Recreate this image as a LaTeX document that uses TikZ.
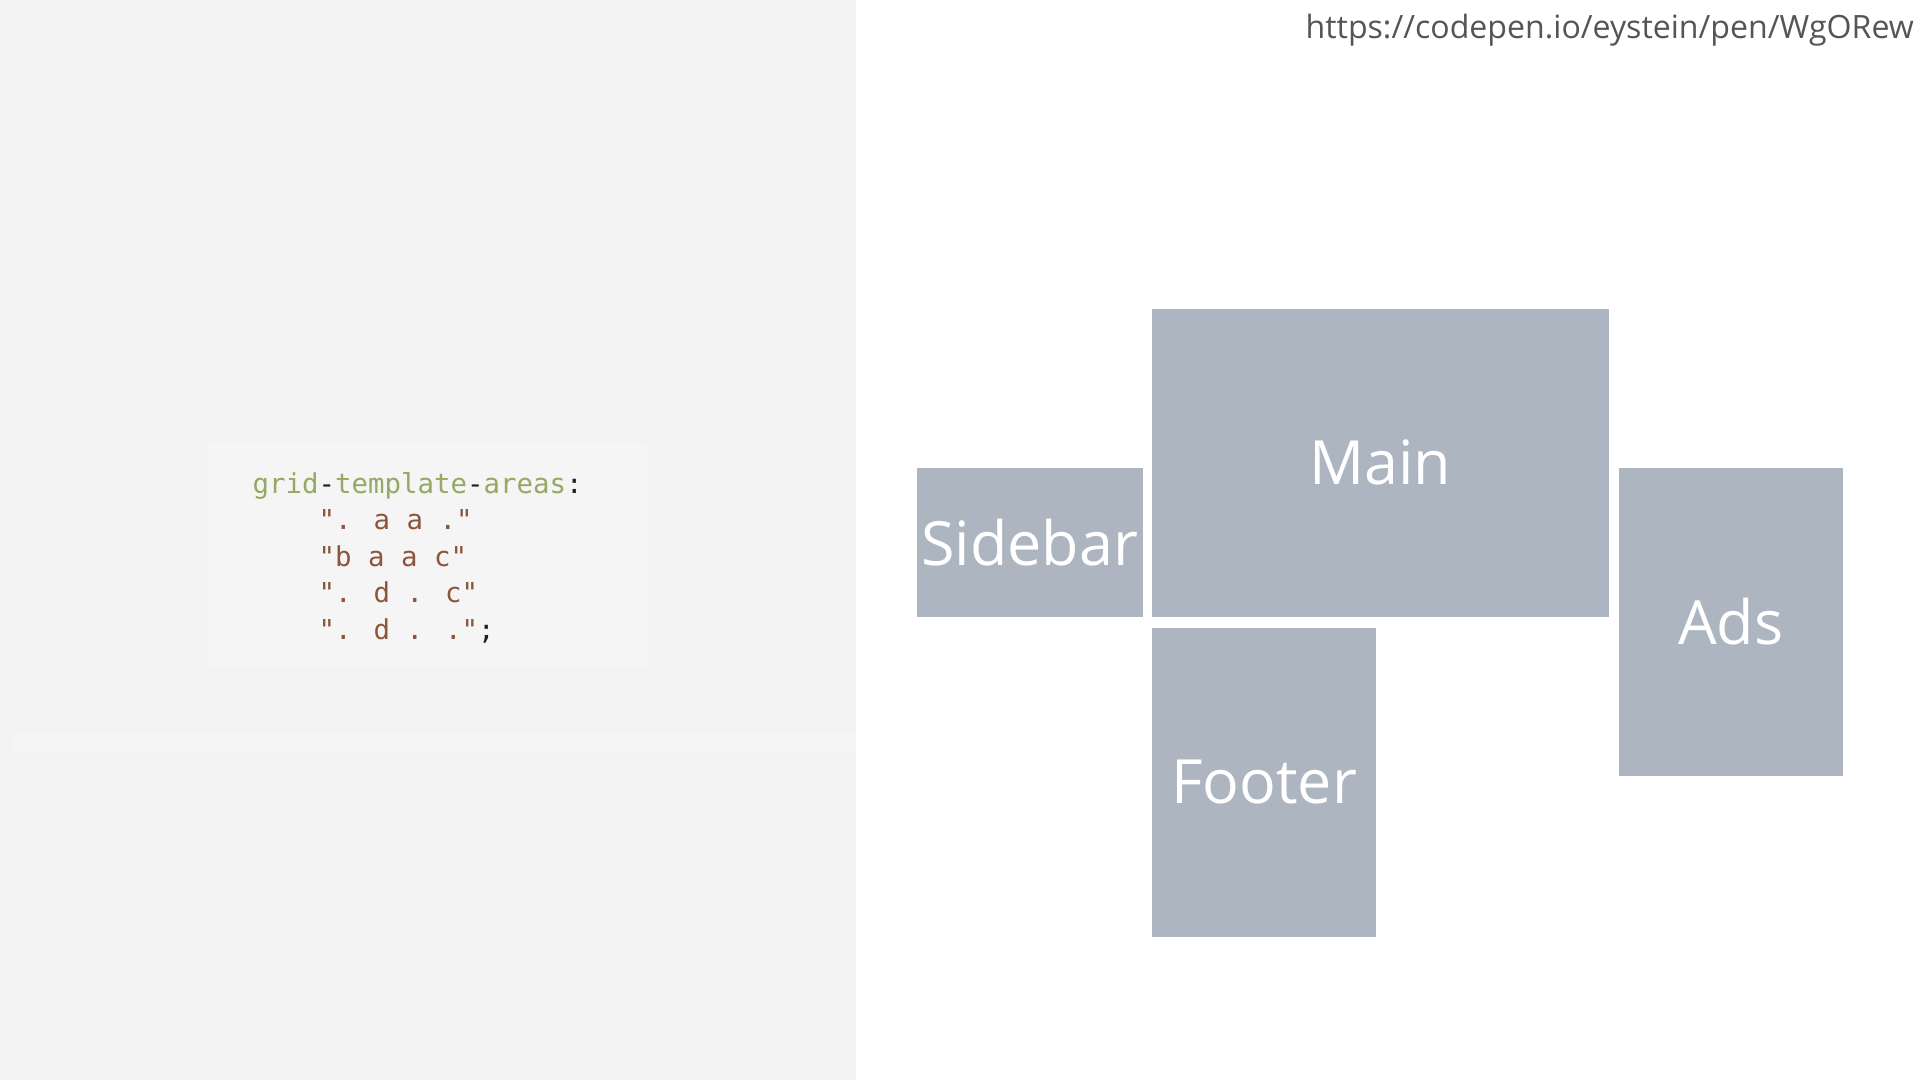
\documentclass[tikz,border=0pt]{standalone}
\usepackage{fontspec}
\setmainfont{Open Sans}
\newfontfamily\codefont{DejaVu Sans Mono}
\definecolor{panel}{HTML}{F3F3F3}
\definecolor{panellight}{HTML}{F5F5F5}
\definecolor{boxfill}{HTML}{ADB6C0}
\definecolor{codegreen}{HTML}{96A862}
\definecolor{codebrown}{HTML}{8C553C}
\definecolor{codedark}{HTML}{222222}
\definecolor{urlgray}{HTML}{555555}
\tikzset{
  areabox/.style={fill=boxfill, draw=none, inner sep=0pt, text=white,
    font=\fontsize{61}{73}\selectfont},
  codeline/.style={anchor=base west, inner sep=0pt, font=\codefont\fontsize{27.4}{33}\selectfont, text=codebrown},
}
\begin{document}
\begin{tikzpicture}[x=1pt,y=-1pt]
\useasboundingbox (0,0) rectangle (1920,1080);
\fill[white] (0,0) rectangle (1920,1080);
% left panel
\fill[panel] (0,0) rectangle (856,1080);
\fill[panellight] (13,732) rectangle (856,751);
\fill[panellight] (207,443) rectangle (647,668);
% code
\node[codeline] (code1) at (252.5,493) {\textcolor{codegreen}{grid}\textcolor{codedark}{-}\textcolor{codegreen}{template}\textcolor{codedark}{-}\textcolor{codegreen}{areas}\textcolor{codedark}{:}};
\node[codeline] (code2) at (252.5,529.5) {\phantom{xxxx}". a a ."};
\node[codeline] (code3) at (252.5,566) {\phantom{xxxx}"b a a c"};
\node[codeline] (code4) at (252.5,602.5) {\phantom{xxxx}". d . c"};
\node[codeline] (code5) at (252.5,639) {\phantom{xxxx}". d . ."\textcolor{codedark}{;}};
% url
\node[anchor=base east, inner sep=0pt, text=urlgray, font=\fontsize{32.1}{38}\selectfont] (url) at (1914,38) {https://codepen.io/eystein/pen/WgORew};
% grid areas
\node[areabox, minimum width=456.5pt, minimum height=308.5pt] (main) at (1380.25,462.75) {\makebox[0pt]{Main}};
\node[areabox, minimum width=225.5pt, minimum height=149pt] (sidebar) at (1029.75,542.5) {\makebox[0pt]{Sidebar}};
\node[areabox, minimum width=223.5pt, minimum height=308pt] (ads) at (1730.75,622) {\makebox[0pt]{Ads}};
\node[areabox, minimum width=224pt, minimum height=309pt] (footer) at (1264,782.5) {\makebox[0pt]{Footer}};
\end{tikzpicture}
\end{document}
